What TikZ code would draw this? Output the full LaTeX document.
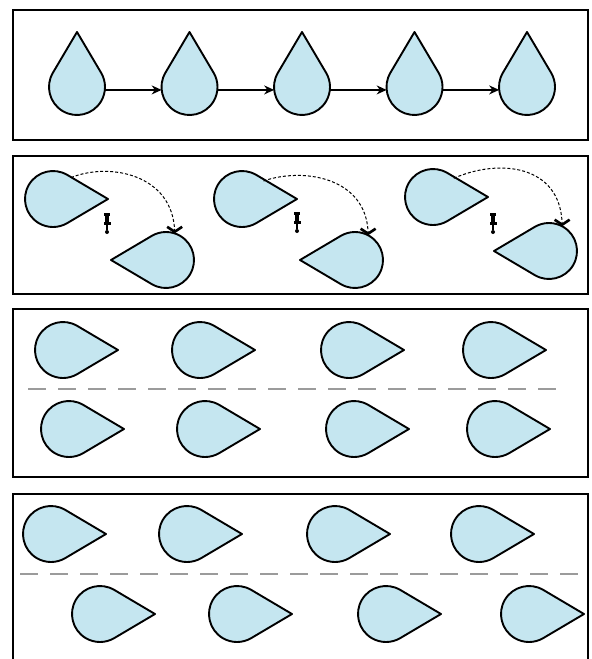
\documentclass[tikz,border=0pt]{standalone}
\usetikzlibrary{arrows.meta,bending}
\definecolor{dropblue}{RGB}{197,230,240}
\definecolor{sepgray}{RGB}{155,155,155}
\tikzset{
  dropcore/.style={circle, minimum size=56pt, inner sep=0pt, outer sep=0pt},
  dropline/.style={draw=black, fill=dropblue, line width=1.9pt, line join=round},
  panel/.style={draw=black, line width=2.5pt},
  flowarrow/.style={line width=1.5pt, -{Stealth[length=10pt,width=9pt]}},
  swaparrow/.style={line width=1pt, dash pattern=on 3pt off 2pt, -{Straight Barb[length=5pt,width=15pt,line width=2.6pt]}},
  separator/.style={sepgray, line width=2pt, dash pattern=on 18pt off 12pt},
  pics/droplet/.style={code={
    \draw[dropline] (0:55pt) -- (59:28pt) arc[start angle=59,end angle=301,radius=28pt] -- cycle;
  }},
  pics/pushpin/.style={code={
    \fill (-3,0) rectangle (3,3);
    \fill (-1.6,3) rectangle (1.6,9);
    \fill (-3.5,9) rectangle (3.5,11.5);
    \draw[line width=1.2pt] (0,11.5) -- (0,16.5);
    \fill (0,19) circle (2pt);
  }}
}
\begin{document}
\begin{tikzpicture}[x=1pt,y=-1pt]
\useasboundingbox (0,0) rectangle (592,659);
\fill[white] (0,0) rectangle (592,659);

% panels
\draw[panel] (13,10) rectangle (588,140);
\draw[panel] (13,156) rectangle (588,294);
\draw[panel] (13,309) rectangle (588,477);
\draw[panel] (13,680) -- (13,494) -- (588,494) -- (588,680);

% panel 1
\foreach \x [count=\i] in {77,189.5,302,414.5,527} {
  \node[dropcore] (d\i) at (\x,87) {};
  \pic[rotate=90] at (d\i) {droplet};
}
\foreach \i [evaluate=\i as \j using int(\i+1)] in {1,2,3,4} {
  \draw[flowarrow] (d\i.-6) -- (d\j.186);
}

% panel 2
\node[dropcore] (a1) at (53,199) {};
\node[dropcore] (b1) at (166,260) {};
\node[dropcore] (a2) at (242,199) {};
\node[dropcore] (b2) at (355,260) {};
\node[dropcore] (a3) at (433,197) {};
\node[dropcore] (b3) at (549,251) {};
\foreach \n in {a1,a2,a3} { \pic at (\n) {droplet}; }
\foreach \n in {b1,b2,b3} { \pic[rotate=180] at (\n) {droplet}; }
\draw[swaparrow] (a1.50) .. controls +(40pt,16pt) and +(0,58pt) .. (b1.72);
\draw[swaparrow] (a2.40) .. controls +(40pt,14pt) and +(0,58pt) .. (b2.62);
\draw[swaparrow] (a3.42) .. controls +(45pt,20pt) and +(0,62pt) .. (b3.62);
\coordinate (pinA) at (107,213);
\coordinate (pinB) at (297,212);
\coordinate (pinC) at (493,213);
\foreach \n in {pinA,pinB,pinC} { \pic at (\n) {pushpin}; }

% panel 3
\foreach \x [count=\i] in {63,200,349,491} {
  \node[dropcore] (p3a\i) at (\x,350) {};
  \pic at (p3a\i) {droplet};
}
\coordinate (s3a) at (28,389);
\coordinate (s3b) at (557,389);
\draw[separator] (s3a) -- (s3b);
\foreach \x [count=\i] in {69,205,354,495} {
  \node[dropcore] (p3b\i) at (\x,429) {};
  \pic at (p3b\i) {droplet};
}

% panel 4
\foreach \x [count=\i] in {51,187,335,479} {
  \node[dropcore] (p4a\i) at (\x,534) {};
  \pic at (p4a\i) {droplet};
}
\coordinate (s4a) at (20,574);
\coordinate (s4b) at (585,574);
\draw[separator] (s4a) -- (s4b);
\foreach \x [count=\i] in {100,237,386,529} {
  \node[dropcore] (p4b\i) at (\x,614) {};
  \pic at (p4b\i) {droplet};
}
\end{tikzpicture}
\end{document}
